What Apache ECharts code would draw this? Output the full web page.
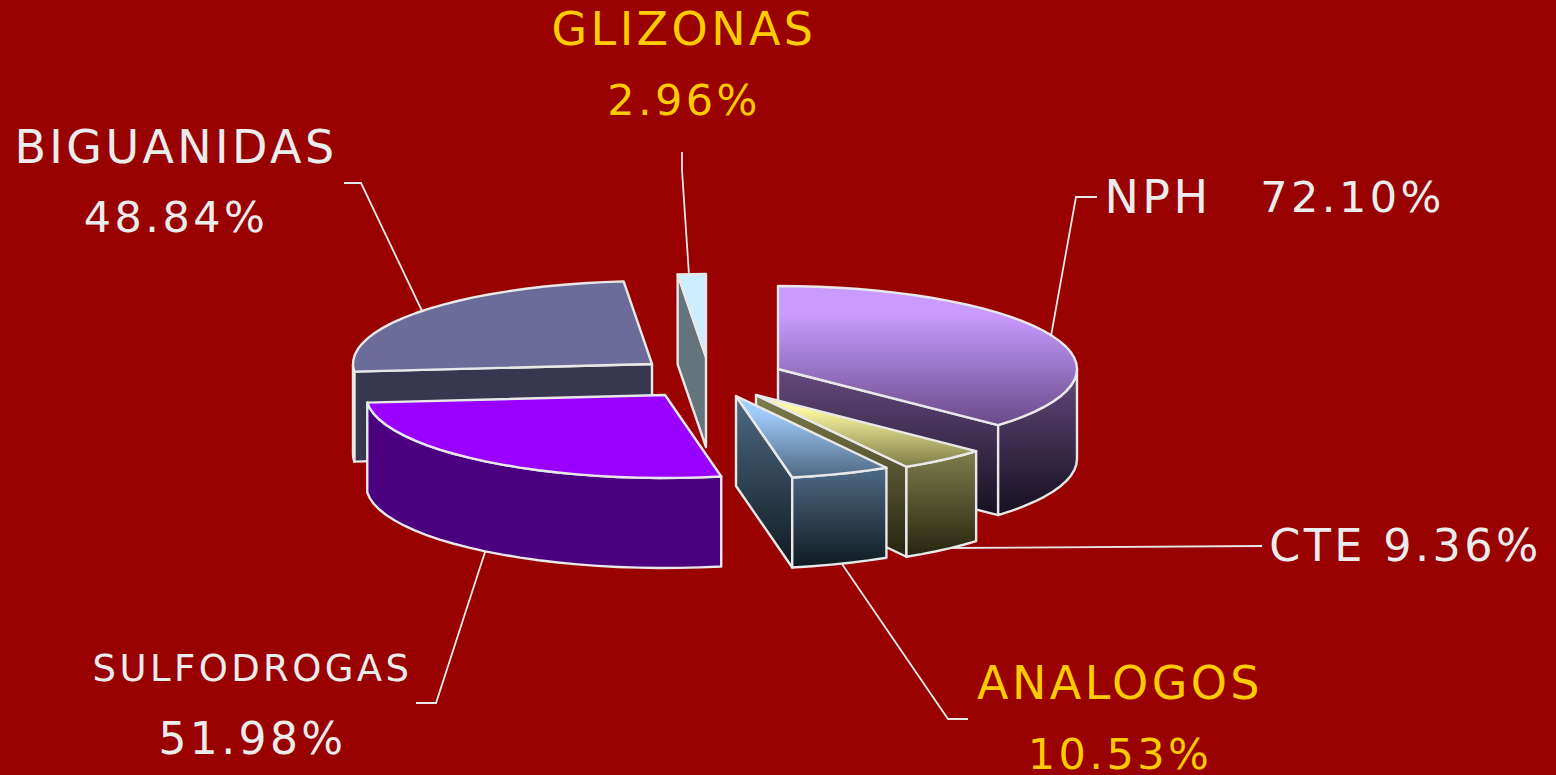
<!DOCTYPE html>
<html><head><meta charset="utf-8">
<style>
html,body{margin:0;padding:0;background:#990000}
#c{width:1556px;height:775px}
svg text{letter-spacing:3.4px}
</style>
<script src="https://cdn.jsdelivr.net/npm/echarts@6/dist/echarts.min.js"></script>
</head><body><div id="c"></div>
<script>
// Data, clockwise from twelve o'clock
const categories = ['NPH','CTE','ANALOGOS','SULFODROGAS','BIGUANIDAS','GLIZONAS'];
const shares = [72.10, 9.36, 10.53, 51.98, 48.84, 2.96];

// Exploded 3D pie geometry (layout only)
const radiusX = 299, radiusY = 83, depth = 90;
const apexX = [778, 756, 736, 665, 652, 706];
const apexY = [369, 395, 396, 395, 364, 357];
const drawOrder = [4, 5, 0, 1, 2, 3];

// Styles
const topColors = [['#c99bff','#c99bff','#684a88'],['#fbf8a0','#fbf8a0','#7e7c48'],['#a0ccfa','#a0ccfa','#4e6882'],['#9900ff','#9900ff','#9900ff'],['#6c6c9a','#6c6c9a','#6c6c9a'],['#ccecff','#ccecff','#ccecff']];
const wallColors = [['#654a7d','#151020'],['#7f7e4c','#26240f'],['#4f6a85','#0e1a20'],['#4b0080','#4b0080'],['#37374f','#37374f'],['#64747c','#64747c']];
const edge = '#e8e8e8';
const white = '#ececec', gold = '#ffcc00';

// Label placement
const labelLayout = [
  {i:5, kind:'stack', c:gold, nameSize:46, pctSize:43, x:684, y1:29, y2:100},
  {i:4, kind:'stack', c:white, nameSize:46, pctSize:43, x:176, y1:147, y2:217},
  {i:3, kind:'stack', c:white, nameSize:37, pctSize:44, x:252.5, y1:668, y2:738},
  {i:2, kind:'stack', c:gold, nameSize:46, pctSize:43, x:1120, y1:683, y2:754},
  {i:0, kind:'split', c:white, nameSize:46, pctSize:43, x:1158, x2:1352.5, y1:197},
  {i:1, kind:'line', c:white, nameSize:44.5, x:1405.5, y1:545}
];
const leaderPaths = [
  [[344,183],[361,183],[423,313]],
  [[682,152],[682,170],[689,275]],
  [[1097,197],[1076,197],[1051,336]],
  [[1262,546],[945,548]],
  [[968,719],[948,719],[842,564]],
  [[416,703],[436,703],[486,549]]
];

const total = shares.reduce((a,b)=>a+b,0);
const pct = v => v.toFixed(2) + '%';
function sliceAngles(i){
  let s = 0; for(let k=0;k<i;k++) s += shares[k];
  return [s/total*Math.PI*2, (s+shares[i])/total*Math.PI*2];
}
const pt = (i,t,dy=0) => [apexX[i]+radiusX*Math.sin(t), apexY[i]-radiusY*Math.cos(t)+dy];
function arc(i,a,b,dy=0){
  const n = Math.max(2,Math.ceil((b-a)/(Math.PI/45))), r=[];
  for(let k=0;k<=n;k++) r.push(pt(i,a+(b-a)*k/n,dy));
  return r;
}
function grad(c,points){
  const ys = points.map(p=>p[1]);
  const stops = c.length===3
    ? [{offset:0,color:c[0]},{offset:.2,color:c[1]},{offset:1,color:c[2]}]
    : [{offset:0,color:c[0]},{offset:1,color:c[1]}];
  return {type:'linear',global:true,x:0,y:Math.min(...ys),x2:0,y2:Math.max(...ys),colorStops:stops};
}
function face(points,colors){
  return {type:'polygon',shape:{points},style:{fill:grad(colors,points),stroke:edge,lineWidth:2.4,lineJoin:'round'}};
}
function sliceFaces(i){
  const [a,b] = sliceAngles(i), faces = [];
  const top = [[apexX[i],apexY[i]],...arc(i,a,b)];
  const cutWall = t => {
    const p = pt(i,t);
    return face([[apexX[i],apexY[i]],p,[p[0],p[1]+depth],[apexX[i],apexY[i]+depth]],wallColors[i]);
  };
  if(Math.cos(a-Math.PI/2) < -1e-6) faces.push(cutWall(a));
  if(Math.cos(b+Math.PI/2) < -1e-6) faces.push(cutWall(b));
  const oa = Math.max(a,Math.PI/2), ob = Math.min(b,Math.PI*1.5);
  if(ob>oa){
    faces.push(face([...arc(i,oa,ob),...arc(i,oa,ob,depth).reverse()],wallColors[i]));
  }
  faces.push(face(top,topColors[i]));
  return faces;
}
function labelTexts(){
  const out = [];
  labelLayout.forEach(l=>{
    const mk=(text,x,y,size)=>({type:'text',style:{x,y,text,fill:l.c,fontSize:size,fontFamily:'DejaVu Sans',align:'center',verticalAlign:'middle'}});
    const name = categories[l.i], p = pct(shares[l.i]);
    if(l.kind==='stack') out.push(mk(name,l.x,l.y1,l.nameSize), mk(p,l.x,l.y2,l.pctSize));
    else if(l.kind==='split') out.push(mk(name,l.x,l.y1,l.nameSize), mk(p,l.x2,l.y1,l.pctSize));
    else out.push(mk(name+' '+p,l.x,l.y1,l.nameSize));
  });
  return out;
}
const chart = echarts.init(document.getElementById('c'),null,{renderer:'svg',width:1556,height:775});
chart.setOption({
  backgroundColor:'#990000',
  animation:false,
  series:[
   {type:'custom',coordinateSystem:'none',silent:true,z:1,data:[0],
    renderItem:()=>({type:'group',children:leaderPaths.map(p=>({type:'polyline',shape:{points:p},style:{fill:'none',stroke:edge,lineWidth:1.8}}))})},
   {type:'custom',coordinateSystem:'none',silent:true,z:2,
    data:drawOrder.map(i=>({name:categories[i],value:shares[i]})),
    renderItem:(params)=>({type:'group',children:sliceFaces(drawOrder[params.dataIndex])})},
   {type:'custom',coordinateSystem:'none',silent:true,z:3,data:[0],
    renderItem:()=>({type:'group',children:labelTexts()})}
  ]
});
</script></body></html>
